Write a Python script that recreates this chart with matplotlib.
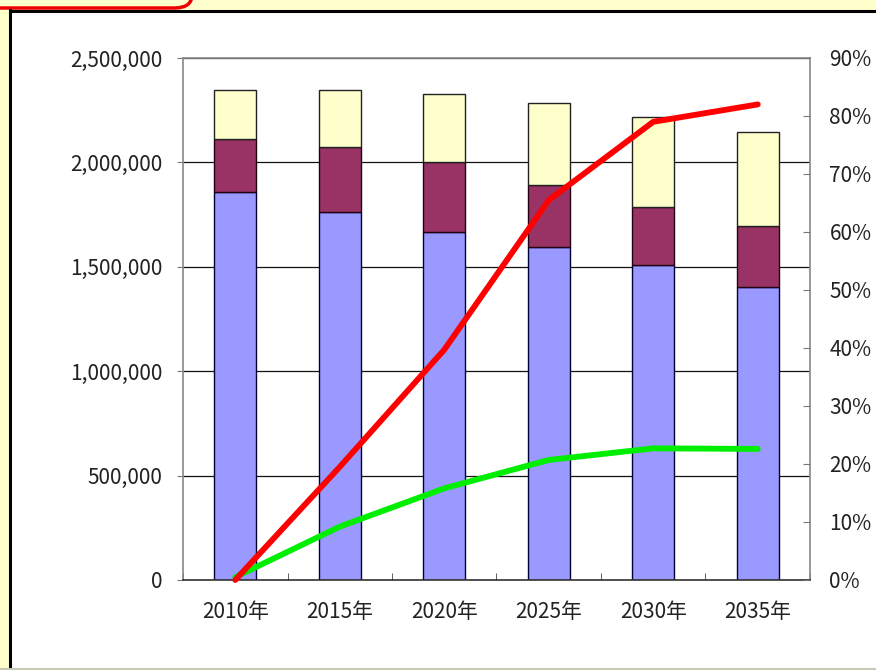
import matplotlib
matplotlib.use("Agg")
import matplotlib.pyplot as plt
from matplotlib.patches import FancyBboxPatch, Rectangle
from matplotlib.lines import Line2D
from matplotlib.ticker import FuncFormatter, MultipleLocator

plt.rcParams["font.family"] = ["Noto Sans CJK JP", "DejaVu Sans"]

# ── データ ───────────────────────────────────────────────
years = ["2010年", "2015年", "2020年", "2025年", "2030年", "2035年"]
seg_blue = [1858000, 1762000, 1667000, 1595000, 1509000, 1403000]
seg_maroon = [254000, 312000, 335000, 297000, 277000, 292000]
seg_yellow = [235000, 273000, 326000, 392000, 431000, 451000]
rate_red = [0.0, 0.195, 0.397, 0.655, 0.79, 0.82]
rate_green = [0.005, 0.092, 0.158, 0.207, 0.227, 0.226]

BLUE = "#9999FF"
MAROON = "#993366"
CREAM = "#FFFFCC"
TEXT = "#222222"

W, H = 876, 670
fig = plt.figure(figsize=(W / 100, H / 100), dpi=100, facecolor="white")

# ── 外枠 ─────────────────────────────────────────────────
fig.patches.append(Rectangle((0, 1 - 10 / H), 1, 10 / H, transform=fig.transFigure,
                             facecolor=CREAM, edgecolor="none", zorder=0))
fig.patches.append(Rectangle((0, 0), 9 / W, 1, transform=fig.transFigure,
                             facecolor=CREAM, edgecolor="none", zorder=0))
fig.lines.append(Line2D([9.5 / W, 9.5 / W], [0, 1 - 10 / H], transform=fig.transFigure,
                        color="black", lw=2.2))
fig.lines.append(Line2D([9.5 / W, 1], [1 - 10.5 / H, 1 - 10.5 / H], transform=fig.transFigure,
                        color="black", lw=2.2))
fig.lines.append(Line2D([0, 1], [1.5 / H, 1.5 / H], transform=fig.transFigure,
                        color="#c8c8b4", lw=1.5))
fig.patches.append(FancyBboxPatch((-20 / W, 1 - 8 / H), 212 / W, 40 / H,
                                  boxstyle="round,pad=0,rounding_size=0.02",
                                  transform=fig.transFigure, facecolor=CREAM,
                                  edgecolor="#ee0000", lw=2.5, zorder=1))

# ── 棒グラフ ─────────────────────────────────────────────
ax = fig.add_axes([183 / W, 1 - 580 / H, 627 / W, 522 / H])
x = range(len(years))
bw = 0.40
ax.bar(x, seg_blue, bw, color=BLUE, edgecolor="#000033", lw=1.0, zorder=2)
bottom2 = [b for b in seg_blue]
ax.bar(x, seg_maroon, bw, bottom=bottom2, color=MAROON, edgecolor="#220011", lw=1.0, zorder=2)
bottom3 = [b + m for b, m in zip(seg_blue, seg_maroon)]
ax.bar(x, seg_yellow, bw, bottom=bottom3, color=CREAM, edgecolor="#222222", lw=1.0, zorder=2)

ax.set_xlim(-0.5, len(years) - 0.5)
ax.set_ylim(0, 2500000)
ax.yaxis.set_major_locator(MultipleLocator(500000))
ax.yaxis.set_major_formatter(FuncFormatter(lambda v, p: f"{int(v):,}"))
ax.grid(axis="y", color="#111111", lw=0.9, zorder=0)
ax.set_axisbelow(True)

ax.set_xticks(list(x))
ax.set_xticklabels(years)
ax.set_xticks([i + 0.5 for i in range(-1, len(years))], minor=True)
ax.tick_params(axis="x", which="major", length=0, pad=15, labelsize=15, labelcolor=TEXT)
ax.tick_params(axis="x", which="minor", direction="in", length=5, color="#444444")
ax.tick_params(axis="y", direction="out", length=4, color="#777777", pad=11,
               labelsize=15, labelcolor=TEXT)

for side in ("left", "top", "right"):
    ax.spines[side].set_color("#888888")
    ax.spines[side].set_linewidth(1.2)
ax.spines["bottom"].set_color("#333333")
ax.spines["bottom"].set_linewidth(1.2)

# ── 割合（右軸） ─────────────────────────────────────────
ax2 = ax.twinx()
ax2.set_ylim(0, 0.9)
ax2.yaxis.set_major_locator(MultipleLocator(0.1))
ax2.yaxis.set_major_formatter(FuncFormatter(lambda v, p: f"{round(v * 100)}%"))
ax2.tick_params(axis="y", direction="in", length=5, color="#777777", pad=14,
                labelsize=15, labelcolor=TEXT)
for side in ("left", "top", "right", "bottom"):
    ax2.spines[side].set_visible(False)

ax2.plot(list(x), rate_red, color="#FF0000", lw=4.2, solid_capstyle="round",
         solid_joinstyle="round", zorder=4, clip_on=False)
ax2.plot(list(x), rate_green, color="#00EE00", lw=4.2, solid_capstyle="round",
         solid_joinstyle="round", zorder=3, clip_on=False)

fig.savefig("out.png", dpi=100, facecolor=fig.get_facecolor())
